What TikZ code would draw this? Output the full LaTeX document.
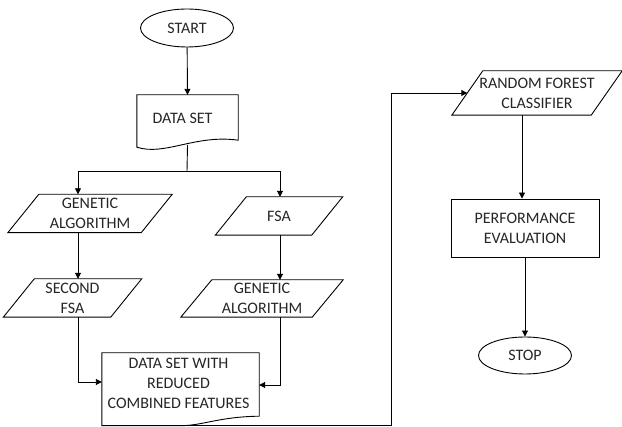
\documentclass[tikz,border=0pt]{standalone}
\usepackage{fontspec}
\setmainfont{Carlito}
\usetikzlibrary{shapes.geometric,arrows.meta,calc}
\newcommand\pgram[1]{\draw[line] ([xshift=15.5pt]#1.north west) -- ([xshift=15.5pt]#1.north east) -- ([xshift=-15.5pt]#1.south east) -- ([xshift=-15.5pt]#1.south west) -- cycle;}
\begin{document}
\begin{tikzpicture}[x=1pt,y=-1pt,
  every node/.style={font=\fontsize{16}{20}\selectfont, text=black!85, align=center, inner sep=0pt},
  line/.style={draw=black, line width=0.9pt},
  arr/.style={line, -{Triangle[length=6pt,width=6pt]}},
  oval/.style={ellipse, draw=black, line width=0.9pt, minimum width=93pt, minimum height=38pt},
  pbox/.style={rectangle, minimum height=38pt},
  rbox/.style={rectangle, draw=black, line width=0.9pt},
]
\useasboundingbox (0,0) rectangle (622,427);
\fill[white] (0,0) rectangle (622,427);

% nodes
\node[oval] (start) at (187,28) {START};
\node[rectangle, minimum width=101pt, minimum height=52pt,
      label={[xshift=-5pt,yshift=3pt]center:DATA SET}] (ds) at (187.5,121) {};
\node[pbox, minimum width=133pt] (ga1) at (90,213.5) {GENETIC\\ALGORITHM};
\node[pbox, minimum width=107pt] (sf) at (72.5,298) {SECOND\\FSA};
\node[pbox, minimum width=96pt] (fsa) at (279,216) {FSA};
\node[pbox, minimum width=131pt, minimum height=37pt] (ga2) at (262,298.5) {GENETIC\\ALGORITHM};
\node[rectangle, minimum width=157pt, minimum height=72.5pt,
      label={[xshift=-2pt,yshift=6pt]center:{DATA SET WITH\\REDUCED\\COMBINED FEATURES}}] (dsw) at (180.5,389.25) {};
\node[pbox, minimum width=139pt, minimum height=44pt] (rf) at (537,93) {RANDOM FOREST\\CLASSIFIER};
\node[rbox, minimum width=148pt, minimum height=58pt] (perf) at (525,228) {PERFORMANCE\\EVALUATION};
\node[oval, minimum height=37pt] (stop) at (525,355.5) {STOP};

% shapes
\draw[line] (ds.north west) -- (ds.north east) -- ($(ds.south east)+(0,-7)$)
  .. controls ($(ds.south east)+(-43,-13)$) and ($(ds.south west)+(28,9)$) .. (ds.south west) -- cycle;
\draw[line] (dsw.north west) -- (dsw.north east) -- ($(dsw.south east)+(0,-9.5)$)
  .. controls ($(dsw.south east)+(-40,-9)$) and ($(dsw.south)+(22,0)$) .. (dsw.south) -- (dsw.south west) -- cycle;
\pgram{ga1}
\pgram{sf}
\pgram{fsa}
\pgram{ga2}
\pgram{rf}

% helper coordinates
\coordinate (dsb) at ($(ds.south)+(0,-2)$);
\coordinate (br) at (187,171.5);
\coordinate (lx) at (78,0);
\coordinate (rx) at (280,0);
\coordinate (ylo) at (0,382);
\coordinate (yro) at (0,385);
\coordinate (vx) at (391,0);
\coordinate (rfx) at (522,0);

% connectors
\draw[arr] (start) -- (ds.north);
\draw[line] (dsb) -- (br);
\draw[arr] (br) -| (lx |- ga1.north);
\draw[arr] (br) -| (rx |- fsa.north);
\draw[arr] (lx |- ga1.south) -- (lx |- sf.north);
\draw[arr] (lx |- sf.south) |- (dsw.west |- ylo);
\draw[arr] (rx |- fsa.south) -- (rx |- ga2.north);
\draw[arr] (rx |- ga2.south) |- (dsw.east |- yro);
\draw[line] (dsw.south) -| (vx |- rf.west);
\draw[arr] (vx |- rf.west) -- (rf.west);
\draw[arr] (rfx |- rf.south) -- (rfx |- perf.north);
\draw[arr] (perf) -- (stop);
\end{tikzpicture}
\end{document}
